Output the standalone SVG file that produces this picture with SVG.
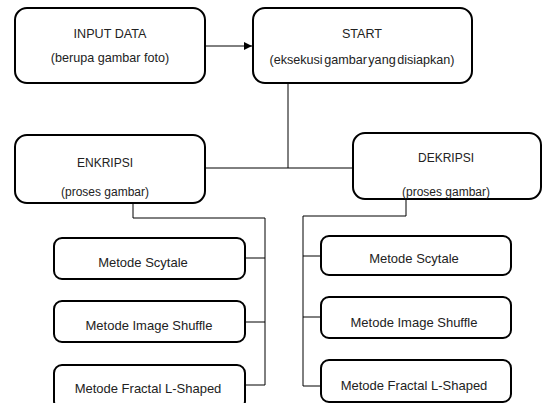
<svg xmlns="http://www.w3.org/2000/svg" width="542" height="403" viewBox="0 0 542 403">
<defs>
<marker id="arr" markerWidth="8" markerHeight="8" refX="8" refY="4" orient="auto" markerUnits="userSpaceOnUse">
<path d="M0,0 L8,4 L0,8 Z" fill="#000"/>
</marker>
<style>
.box{fill:#fff;stroke:#000;stroke-width:2}
.t{font-family:"Liberation Sans",Arial,sans-serif;font-size:12px;fill:#222;text-anchor:middle}
.h{font-size:12.6px}
.m{font-size:13px}
.c{fill:none;stroke:#000;stroke-width:1}
</style>
</defs>
<rect width="542" height="403" fill="#fff"/>
<g id="connectors">
<line class="c" x1="205" y1="46" x2="252" y2="46" marker-end="url(#arr)"/>
<polyline class="c" points="288,84 288,168"/>
<line class="c" x1="205" y1="168" x2="353" y2="168"/>
<polyline class="c" points="133,203 133,218 265,218 265,385"/>
<line class="c" x1="245" y1="258" x2="265" y2="258"/>
<line class="c" x1="245" y1="322" x2="265" y2="322"/>
<line class="c" x1="245" y1="385" x2="265" y2="385"/>
<polyline class="c" points="406,199 406,216 303,216 303,386"/>
<line class="c" x1="303" y1="256" x2="321" y2="256"/>
<line class="c" x1="303" y1="317" x2="321" y2="317"/>
<line class="c" x1="303" y1="386" x2="321" y2="386"/>
</g>
<g id="input">
<rect class="box" x="15" y="8" width="190" height="75" rx="12"/>
<text class="t h" x="110" y="38">INPUT DATA</text>
<text class="t h" x="110" y="62">(berupa gambar foto)</text>
</g>
<g id="start">
<rect class="box" x="253" y="8" width="219" height="75" rx="12"/>
<text class="t h" x="362" y="38">START</text>
<text class="t h" x="362" y="64" word-spacing="-2">(eksekusi gambar yang disiapkan)</text>
</g>
<g id="enkripsi">
<rect class="box" x="15" y="135" width="190" height="68" rx="12"/>
<text class="t" x="105" y="167">ENKRIPSI</text>
<text class="t" x="105" y="196">(proses gambar)</text>
</g>
<g id="dekripsi">
<rect class="box" x="353" y="133" width="188" height="66" rx="12"/>
<text class="t" x="446" y="162">DEKRIPSI</text>
<text class="t" x="446" y="196">(proses gambar)</text>
</g>
<g id="enc-scytale">
<rect class="box" x="54" y="238" width="191" height="41" rx="8"/>
<text class="t m" x="143" y="267">Metode Scytale</text>
</g>
<g id="enc-shuffle">
<rect class="box" x="54" y="301" width="191" height="41" rx="8"/>
<text class="t m" x="149" y="330">Metode Image Shuffle</text>
</g>
<g id="enc-fractal">
<rect class="box" x="54" y="365" width="191" height="44" rx="8"/>
<text class="t m" x="148" y="393">Metode Fractal L-Shaped</text>
</g>
<g id="dec-scytale">
<rect class="box" x="321" y="236" width="190" height="39" rx="8"/>
<text class="t m" x="414" y="263">Metode Scytale</text>
</g>
<g id="dec-shuffle">
<rect class="box" x="321" y="297" width="190" height="41" rx="8"/>
<text class="t m" x="414" y="327">Metode Image Shuffle</text>
</g>
<g id="dec-fractal">
<rect class="box" x="321" y="360" width="190" height="42" rx="8"/>
<text class="t m" x="414" y="390">Metode Fractal L-Shaped</text>
</g>
</svg>
